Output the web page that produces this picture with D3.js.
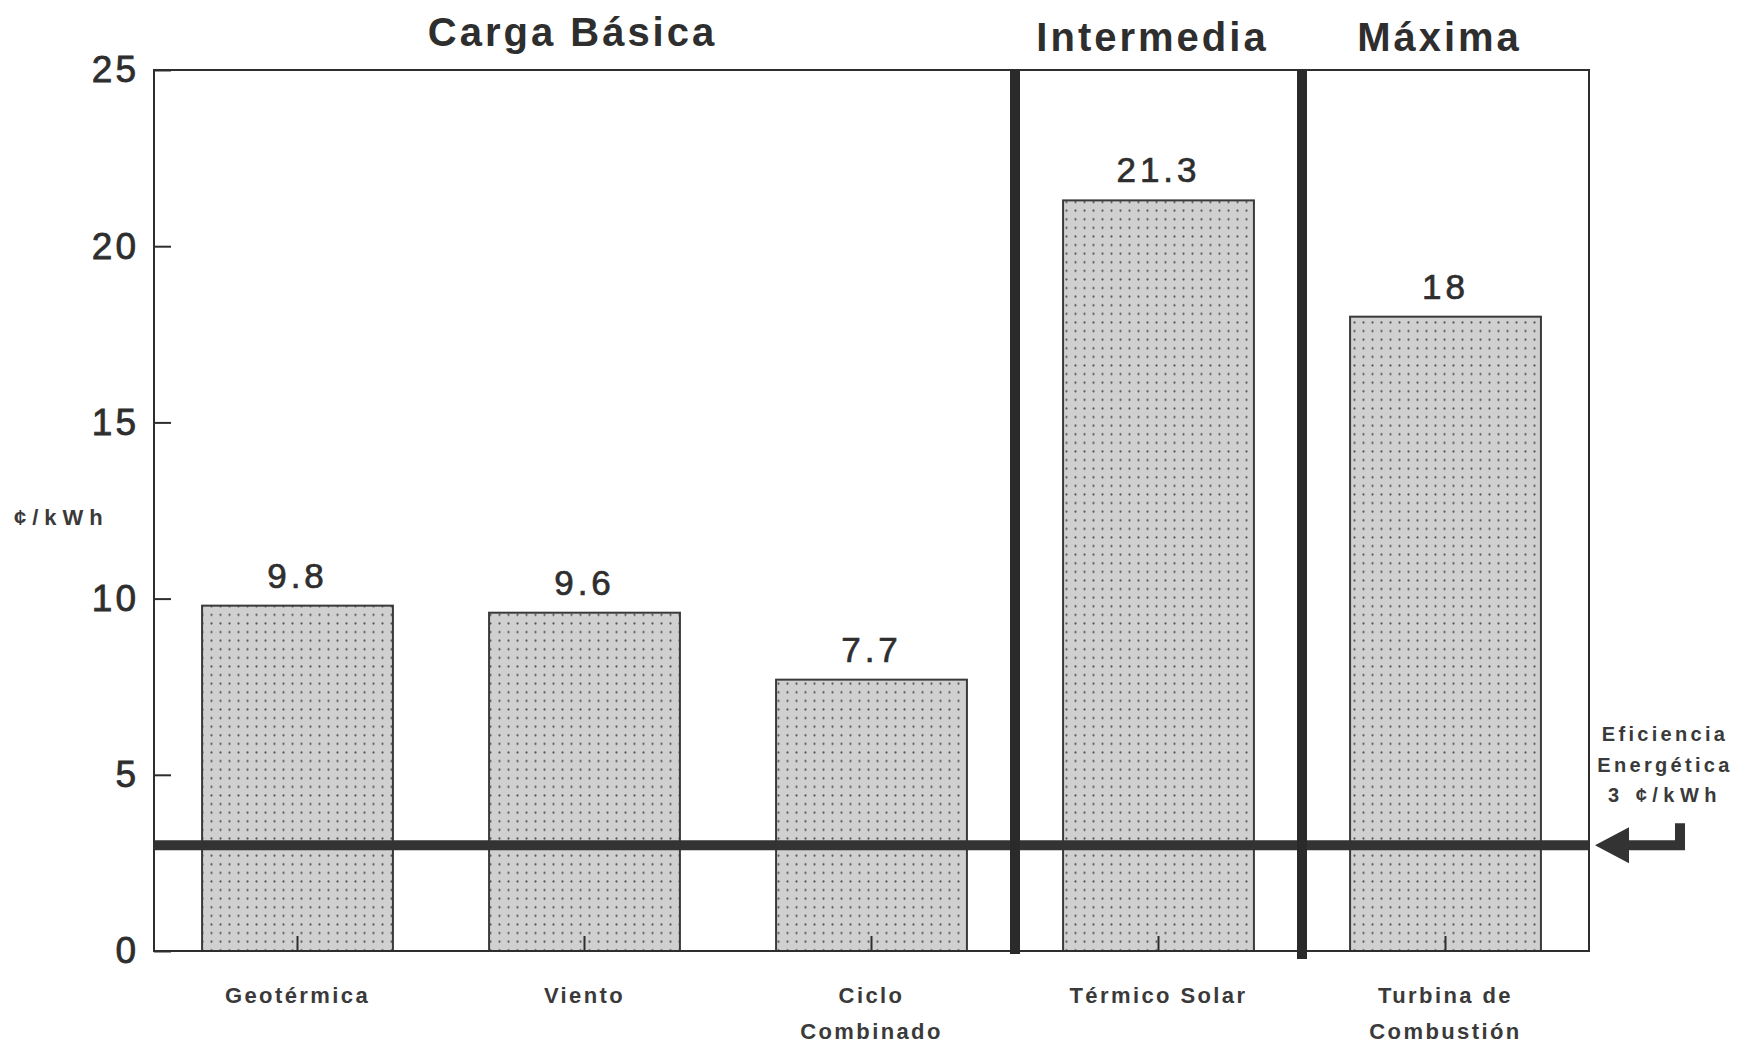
<!DOCTYPE html>
<html>
<head>
<meta charset="utf-8">
<script src="https://cdn.jsdelivr.net/npm/d3@7"></script>
<style>
  html, body { margin: 0; padding: 0; background: #fff; }
  svg { display: block; font-family: "Liberation Sans", Arial, sans-serif; }
</style>
</head>
<body>
<svg id="chart" width="1740" height="1045"></svg>
<script>
// Generation cost by technology, in cents per kWh
const categories = ["Geotérmica", "Viento", "Ciclo Combinado", "Térmico Solar", "Turbina de Combustión"];
const categoryLines = [["Geotérmica"], ["Viento"], ["Ciclo", "Combinado"], ["Térmico Solar"], ["Turbina de", "Combustión"]];
const costs = [9.8, 9.6, 7.7, 21.3, 18];
const costLabels = ["9.8", "9.6", "7.7", "21.3", "18"];
const yTicks = [0, 5, 10, 15, 20, 25];
const yLabel = "¢/kWh";

// Load segments: name, first and last category index covered
const groupNames = ["Carga Básica", "Intermedia", "Máxima"];
const groupFirst = [0, 3, 4];
const groupLast = [2, 3, 4];

// Energy efficiency reference cost
const efficiencyCost = 3;
const efficiencyLines = ["Eficiencia", "Energética", "3 ¢/kWh"];

const svg = d3.select("#chart");
const ink = "#2e2e2e";

const plotLeft = 154, plotRight = 1589, plotTop = 70, plotBottom = 951;

const x = d3.scaleBand()
  .domain(categories)
  .range([plotLeft, plotRight])
  .paddingInner(0.335)
  .paddingOuter(0.1675);

const y = d3.scaleLinear().domain([0, 25]).range([plotBottom, plotTop]);

// Dotted grey fill for the bars
const defs = svg.append("defs");
const pat = defs.append("pattern")
  .attr("id", "dots")
  .attr("patternUnits", "userSpaceOnUse")
  .attr("width", 9).attr("height", 8.6);
pat.append("rect").attr("width", 9).attr("height", 8.6).attr("fill", "#d0d0d0");
pat.append("circle").attr("cx", 4.5).attr("cy", 4.3).attr("r", 1.1).attr("fill", "#555");

// Bars
svg.append("g").selectAll("rect")
  .data(categories)
  .join("rect")
  .attr("x", d => x(d))
  .attr("y", (d, i) => y(costs[i]))
  .attr("width", x.bandwidth())
  .attr("height", (d, i) => y(0) - y(costs[i]))
  .attr("fill", "url(#dots)")
  .attr("stroke", "#3a3a3a")
  .attr("stroke-width", 2);

// Value labels above bars
svg.append("g").selectAll("text")
  .data(categories)
  .join("text")
  .attr("x", d => x(d) + x.bandwidth() / 2)
  .attr("y", (d, i) => y(costs[i]) - 18)
  .attr("text-anchor", "middle")
  .attr("font-size", 35)
  .attr("letter-spacing", 4)
  .attr("fill", ink)
  .attr("stroke", ink)
  .attr("stroke-width", 0.7)
  .text((d, i) => costLabels[i]);

// Y axis: inward ticks, labels on the left
const yAxis = d3.axisLeft(y)
  .tickValues(yTicks)
  .tickSizeInner(-17)
  .tickSizeOuter(0)
  .tickPadding(15);
const gy = svg.append("g").attr("transform", `translate(${plotLeft},0)`).call(yAxis);
gy.select(".domain").remove();
gy.selectAll(".tick line").attr("stroke", ink).attr("stroke-width", 2);
gy.selectAll(".tick text")
  .attr("font-size", 37)
  .attr("letter-spacing", 3)
  .attr("font-family", "Liberation Sans, Arial, sans-serif")
  .attr("fill", ink)
  .attr("stroke", ink)
  .attr("stroke-width", 0.8);

// X axis: short inward ticks at bar centres
const xAxis = d3.axisBottom(x).tickSizeInner(-15).tickSizeOuter(0).tickFormat("");
const gx = svg.append("g").attr("transform", `translate(0,${plotBottom})`).call(xAxis);
gx.select(".domain").remove();
gx.selectAll(".tick line").attr("stroke", ink).attr("stroke-width", 2);

// Category labels below the axis
const catG = svg.append("g")
  .attr("font-size", 22)
  .attr("font-weight", "bold")
  .attr("letter-spacing", 2.4)
  .attr("fill", "#3a3a3a")
  .attr("text-anchor", "middle");
categories.forEach((c, i) => {
  const cx = x(c) + x.bandwidth() / 2;
  const t = catG.append("text").attr("x", cx).attr("y", 1003);
  categoryLines[i].forEach((line, j) => {
    t.append("tspan")
      .attr("x", cx)
      .attr("dy", j === 0 ? 0 : 36)
      .text(line);
  });
});

// Plot frame
svg.append("rect")
  .attr("x", plotLeft).attr("y", plotTop)
  .attr("width", plotRight - plotLeft).attr("height", plotBottom - plotTop)
  .attr("fill", "none")
  .attr("stroke", ink)
  .attr("stroke-width", 2);

// Y axis title
svg.append("text")
  .attr("x", 14).attr("y", 525)
  .attr("font-size", 22)
  .attr("font-weight", "bold")
  .attr("letter-spacing", 6)
  .attr("fill", "#3a3a3a")
  .text(yLabel);

// Efficiency reference line across the plot
const ly = y(efficiencyCost);
svg.append("line")
  .attr("x1", plotLeft).attr("x2", plotRight)
  .attr("y1", ly).attr("y2", ly)
  .attr("stroke", "#333")
  .attr("stroke-width", 10);

// Segment separators between load groups
const boundaries = groupFirst.slice(1).map(i => {
  const prev = categories[i - 1], next = categories[i];
  return (x(prev) + x.bandwidth() + x(next)) / 2;
});
svg.append("g").selectAll("line")
  .data(boundaries)
  .join("line")
  .attr("x1", d => d).attr("x2", d => d)
  .attr("y1", plotTop).attr("y2", (d, i) => plotBottom + 3 + i * 5)
  .attr("stroke", "#2a2a2a")
  .attr("stroke-width", 10);

// Group headings above the plot
svg.append("g").selectAll("text")
  .data(groupNames)
  .join("text")
  .attr("x", (d, i) => {
    const a = x(categories[groupFirst[i]]);
    const b = x(categories[groupLast[i]]) + x.bandwidth();
    return (a + b) / 2 - (i === 0 ? 12 : 6);
  })
  .attr("y", (d, i) => i === 0 ? 46 : 51)
  .attr("text-anchor", "middle")
  .attr("font-size", 40)
  .attr("font-weight", "bold")
  .attr("letter-spacing", 3)
  .attr("fill", ink)
  .text(d => d);

// Arrow pointing at the efficiency line from the right margin
const ax = plotRight;
const arrow = d3.path();
arrow.moveTo(ax + 6, ly);
arrow.lineTo(ax + 40, ly - 18);
arrow.lineTo(ax + 40, ly - 5);
arrow.lineTo(ax + 86, ly - 5);
arrow.lineTo(ax + 86, ly - 22);
arrow.lineTo(ax + 96, ly - 22);
arrow.lineTo(ax + 96, ly + 5);
arrow.lineTo(ax + 40, ly + 5);
arrow.lineTo(ax + 40, ly + 18);
arrow.closePath();
svg.append("path").attr("d", arrow.toString()).attr("fill", "#333");

// Efficiency note
const note = svg.append("text")
  .attr("x", 1665)
  .attr("y", ly - 104)
  .attr("text-anchor", "middle")
  .attr("font-size", 20)
  .attr("font-weight", "bold")
  .attr("fill", "#3a3a3a");
efficiencyLines.forEach((line, j) => {
  note.append("tspan")
    .attr("x", 1665)
    .attr("dy", j === 0 ? 0 : 30.5)
    .attr("letter-spacing", j === 2 ? 5.5 : 3.3)
    .text(line);
});
</script>
</body>
</html>
